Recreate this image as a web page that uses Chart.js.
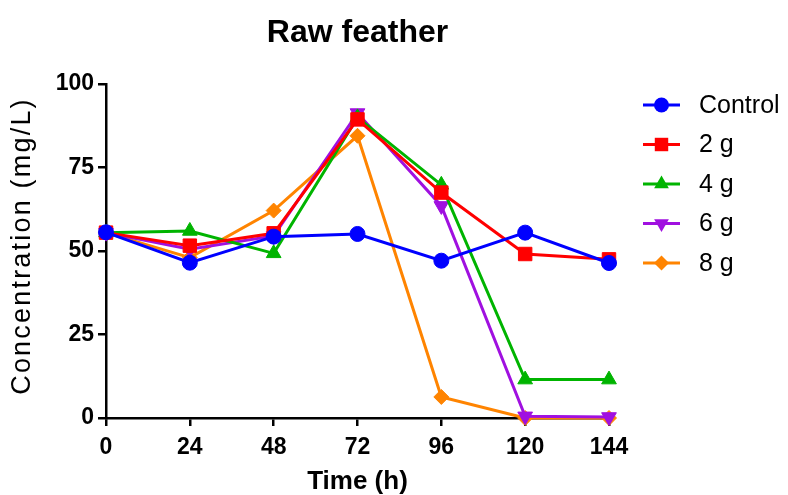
<!DOCTYPE html>
<html>
<head>
<meta charset="utf-8">
<script src="https://cdn.jsdelivr.net/npm/chart.js"></script>
<style>
  html, body { margin: 0; padding: 0; background: #fff; }
  #wrap { width: 788px; height: 495px; }
</style>
</head>
<body>
<div id="wrap"><canvas id="chart"></canvas></div>
<script>
/* ===== DATA ===== */
const times = [0, 24, 48, 72, 96, 120, 144];
const seriesNames = ["Control", "2 g", "4 g", "6 g", "8 g"];
const control = [55.6, 46.5, 54.3, 55.1, 47.1, 55.5, 46.4];
const g2 = [55.5, 51.6, 55.3, 89.4, 67.5, 49.1, 47.5];
const g4 = [55.5, 56.0, 49.3, 90.0, 69.8, 11.5, 11.5];
const g6 = [55.5, 50.5, 54.5, 91.3, 63.5, 0.5, 0.3];
const g8 = [55.5, 48.0, 62.1, 84.5, 6.3, 0, 0];
const yTicks = [0, 25, 50, 75, 100];

/* ===== STYLE ===== */
const colors = ["#0000ff", "#ff0000", "#00b400", "#a010e0", "#ff8400"];
const markers = ["circle", "rect", "triangle", "triangle", "rectRot"];
const rotations = [0, 0, 0, 180, 0];
const radii = [7.5, 9.5, 8.5, 8.5, 7.5];
const allValues = [control, g2, g4, g6, g8];

const FONT = "Arial, 'Liberation Sans', sans-serif";

const datasets = allValues.map((vals, i) => ({
  label: seriesNames[i],
  data: vals.map((v, j) => ({ x: times[j], y: v })),
  borderColor: colors[i],
  backgroundColor: colors[i],
  borderWidth: 3,
  pointStyle: markers[i],
  pointRotation: rotations[i],
  pointRadius: radii[i],
  pointBorderWidth: 1,
  tension: 0,
  clip: false
}));

/* ===== TITLE, Y TITLE + LEGEND (drawn on canvas) ===== */
function drawMarker(ctx, style, rot, x, y, r) {
  ctx.save();
  ctx.translate(x, y);
  ctx.rotate(rot * Math.PI / 180);
  ctx.beginPath();
  if (style === "circle") {
    ctx.arc(0, 0, r, 0, Math.PI * 2);
  } else if (style === "rect") {
    const s = r * Math.SQRT1_2;
    ctx.rect(-s, -s, s * 2, s * 2);
  } else if (style === "rectRot") {
    ctx.moveTo(0, -r); ctx.lineTo(r, 0); ctx.lineTo(0, r); ctx.lineTo(-r, 0);
  } else if (style === "triangle") {
    ctx.moveTo(0, -r);
    ctx.lineTo(r * Math.sin(Math.PI * 2 / 3), r * 0.5);
    ctx.lineTo(-r * Math.sin(Math.PI * 2 / 3), r * 0.5);
  }
  ctx.closePath();
  ctx.fill();
  ctx.restore();
}

const decor = {
  id: "decor",
  afterDraw(chart) {
    const ctx = chart.ctx;
    const area = chart.chartArea;
    ctx.save();
    ctx.fillStyle = "#000";
    ctx.font = "bold 32px " + FONT;
    ctx.textAlign = "center";
    ctx.textBaseline = "middle";
    ctx.fillText("Raw feather", (area.left + area.right) / 2, 33);

    // y axis title
    ctx.save();
    ctx.translate(23, (area.top + area.bottom) / 2 - 5);
    ctx.rotate(-Math.PI / 2);
    ctx.font = "27px " + FONT;
    ctx.letterSpacing = "2.2px";
    ctx.fillText("Concentration (mg/L)", 0, 0);
    ctx.restore();

    ctx.font = "25px " + FONT;
    ctx.textAlign = "left";
    seriesNames.forEach((name, i) => {
      const y = 105 + i * 39.5;
      ctx.strokeStyle = colors[i];
      ctx.fillStyle = colors[i];
      ctx.lineWidth = 3;
      ctx.beginPath();
      ctx.moveTo(643, y);
      ctx.lineTo(680, y);
      ctx.stroke();
      drawMarker(ctx, markers[i], rotations[i], 661.5, y, radii[i]);
      ctx.fillStyle = "#000";
      ctx.fillText(name, 699, y + 1);
    });
    ctx.restore();
  }
};

/* ===== CHART ===== */
new Chart(document.getElementById("chart"), {
  type: "line",
  data: { datasets: datasets },
  options: {
    responsive: true,
    maintainAspectRatio: false,
    animation: false,
    layout: { padding: { top: 84, right: 179, left: 0, bottom: 0 } },
    plugins: { legend: { display: false }, title: { display: false }, tooltip: { enabled: false } },
    scales: {
      x: {
        type: "linear",
        min: 0,
        max: 144,
        afterBuildTicks: s => { s.ticks = times.map(v => ({ value: v })); },
        afterFit: s => { s.height = 77; },
        grid: { drawOnChartArea: false, color: "#000", lineWidth: 2.5, tickLength: 8 },
        border: { color: "#000", width: 2.5 },
        ticks: { color: "#000", font: { family: FONT, size: 23, weight: "bold" }, padding: 8, maxRotation: 0 },
        title: { display: true, text: "Time (h)", color: "#000", font: { family: FONT, size: 26, weight: "bold", lineHeight: 1 }, padding: { top: 0, bottom: 0 } }
      },
      y: {
        min: 0,
        max: 100,
        afterBuildTicks: s => { s.ticks = yTicks.map(v => ({ value: v })); },
        afterFit: s => { s.width = 106; },
        grid: { drawOnChartArea: false, color: "#000", lineWidth: 2.5, tickLength: 8 },
        border: { color: "#000", width: 2.5 },
        ticks: { color: "#000", font: { family: FONT, size: 23, weight: "bold" }, padding: 4 },
        title: { display: false }
      }
    }
  },
  plugins: [decor]
});
</script>
</body>
</html>
